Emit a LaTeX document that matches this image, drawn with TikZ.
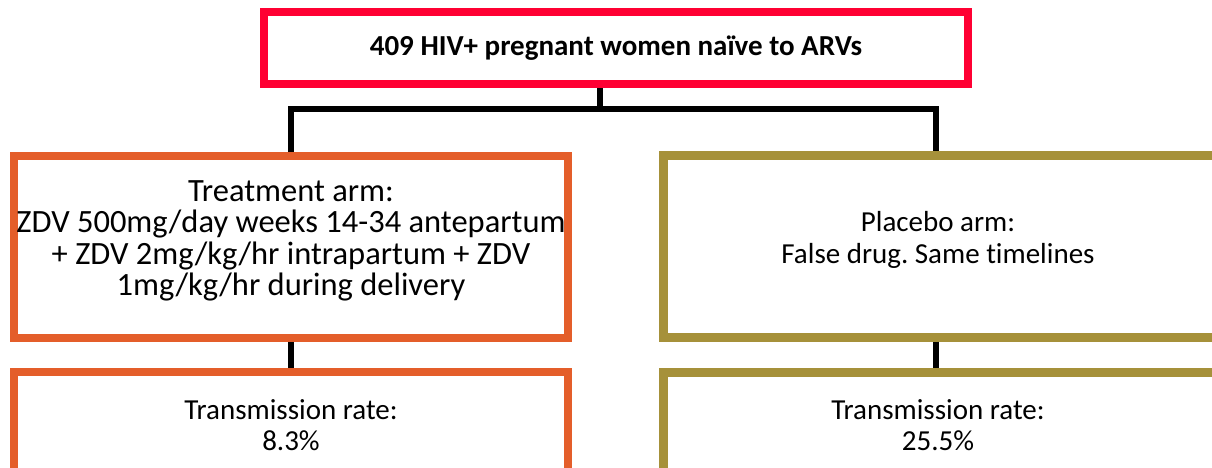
\documentclass[tikz,border=0pt]{standalone}
\usepackage{fontspec}
\setmainfont{Carlito}[RawFeature=-liga]
\usepackage{tikz}
\definecolor{topred}{RGB}{255,0,51}
\definecolor{armorange}{RGB}{228,94,42}
\definecolor{armgold}{RGB}{166,145,58}
\frenchspacing

\begin{document}
\begin{tikzpicture}[x=1pt,y=-1pt,
  box/.style={draw,fill=white,line width=8pt,inner sep=0pt},
  txt/.style={inner sep=0pt,align=center,font=\fontsize{29}{31.5}\selectfont},
  link/.style={line width=6pt,black}]
\useasboundingbox (0,0) rectangle (1212,467);
% boxes
\node[box,draw=topred,minimum width=704pt,minimum height=72pt] (N0) at (616,48) {};
\node[box,draw=armorange,minimum width=554pt,minimum height=182pt] (N1) at (291,247) {};
\node[box,draw=armgold,line width=9pt,minimum width=553pt,minimum height=182pt] (N2) at (940,246) {};
\node[box,draw=armorange,minimum width=554pt,minimum height=108pt] (N3) at (291,426) {};
\node[box,draw=armgold,line width=9pt,minimum width=553pt,minimum height=108pt] (N4) at (940,426) {};
% texts
\node[txt,font=\fontsize{29}{31.5}\selectfont\bfseries] (T0) at (N0) {409 HIV+ pregnant women naïve to ARVs};
\node[txt,font=\fontsize{32.5}{31.5}\selectfont] (T1) at (291,241) {Treatment arm:\\ZDV 500mg/day weeks 14-34 antepartum\\+ ZDV 2mg/kg/hr intrapartum + ZDV\\1mg/kg/hr during delivery};
\node[txt] (T2) at (938,240) {Placebo arm:\\False drug. Same timelines};
\node[txt] (T3) at (291,425) {Transmission rate:\\8.3\%};
\node[txt] (T4) at (938,425) {Transmission rate:\\25.5\%};
% connectors
\coordinate (S) at (600,108.5);
\coordinate (P) at (936,108.5);
\draw[link] (S |- N0.south) -- (S);
\draw[link] (N1.north) |- (S) -| (P |- N2.north);
\draw[link] (N1.south) -- (N3.north);
\draw[link] (P |- N2.south) -- (P |- N4.north);
\end{tikzpicture}
\end{document}
